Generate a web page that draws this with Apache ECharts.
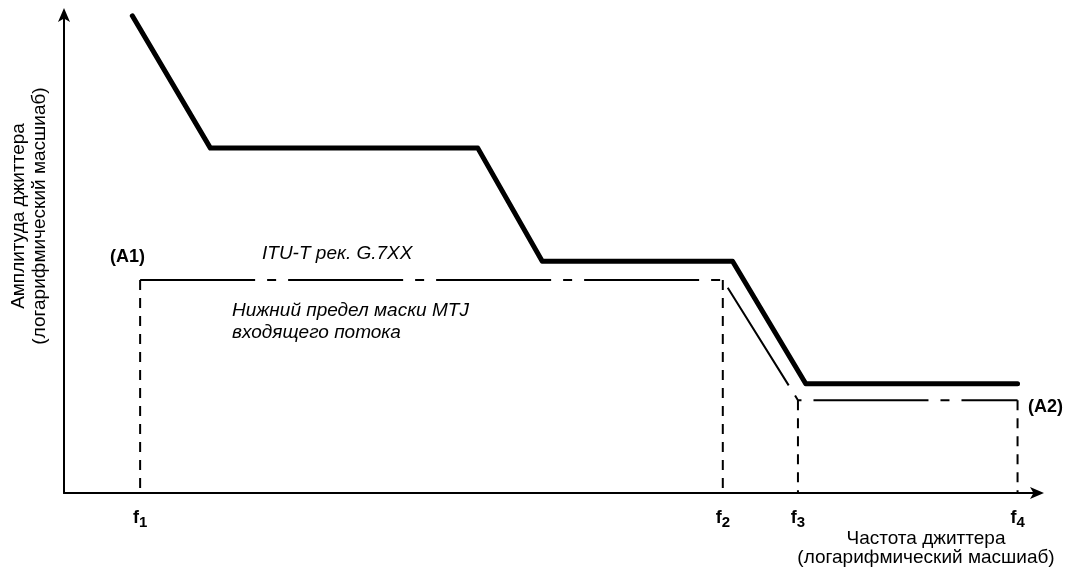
<!DOCTYPE html>
<html>
<head>
<meta charset="utf-8">
<script src="https://cdn.jsdelivr.net/npm/echarts@6/dist/echarts.min.js"></script>
<style>
  html, body { margin: 0; padding: 0; background: #fff; }
  #chart { width: 1070px; height: 568px; }
</style>
</head>
<body>
<div id="chart"></div>
<script>
// log-frequency positions (0..100) and log-amplitude (0..100)
const fLabels = ['1', '2', '3', '4'];
const fPos = [7.8, 67.5, 75.2, 97.7];

// upper (thick) curve
const upperX = [7.0, 15.0, 42.4, 49.0, 68.5, 76.0, 97.7];
const upperY = [99.2, 71.7, 71.7, 48.2, 48.2, 22.7, 22.7];

// lower mask limit (dash-dot)
const maskX = [7.8, 67.5, 75.2, 97.7];
const maskY = [44.3, 44.3, 19.3, 19.3];

const font = '"Liberation Sans", Arial, sans-serif';

function pairs(xs, ys) {
  return xs.map(function (x, i) { return [x, ys[i]]; });
}

const series = [];
series.push({
  type: 'line',
  data: pairs(upperX, upperY),
  symbol: 'none',
  lineStyle: { color: '#000', width: 5, cap: 'round', join: 'round' },
  z: 5
});
series.push({
  type: 'line',
  data: pairs(maskX, maskY),
  symbol: 'none',
  lineStyle: { color: '#000', width: 2, type: [115, 12, 9, 12] },
  z: 4
});
// vertical dashed guides down from the mask corners
for (let i = 0; i < fPos.length; i++) {
  series.push({
    type: 'line',
    data: [[fPos[i], maskY[i]], [fPos[i], 0]],
    symbol: 'none',
    lineStyle: { color: '#000', width: 2, type: [10, 8] },
    z: 3
  });
}

const myChart = echarts.init(document.getElementById('chart'));
const option = {
  animation: false,
  backgroundColor: '#fff',
  grid: { left: 64, right: 30, top: 12, bottom: 75 },
  xAxis: {
    type: 'value',
    min: 0,
    max: 100,
    splitLine: { show: false },
    axisTick: { show: false },
    axisLine: {
      lineStyle: { color: '#000', width: 2 },
      symbol: ['none', 'arrow'],
      symbolSize: [9, 14],
      symbolOffset: [0, 4]
    },
    axisLabel: {
      customValues: fPos,
      margin: 14,
      formatter: function (v) {
        const i = fPos.indexOf(v);
        return '{f|f}{s|' + fLabels[i] + '}';
      },
      rich: {
        f: { fontFamily: font, fontWeight: 'bold', fontSize: 18, color: '#000' },
        s: { fontFamily: font, fontWeight: 'bold', fontSize: 15, color: '#000', verticalAlign: 'bottom', padding: [8, 0, 0, 0] }
      }
    }
  },
  yAxis: {
    type: 'value',
    min: 0,
    max: 100,
    splitLine: { show: false },
    axisTick: { show: false },
    axisLabel: { show: false },
    axisLine: {
      lineStyle: { color: '#000', width: 2 },
      symbol: ['none', 'arrow'],
      symbolSize: [9, 14],
      symbolOffset: [0, 4]
    }
  },
  graphic: [
    {
      type: 'text', x: 29, y: 216, rotation: Math.PI / 2,
      style: {
        text: 'Амплитуда джиттера\n(логарифмический масшиаб)',
        font: '19px ' + font, fill: '#000',
        textAlign: 'center', textVerticalAlign: 'middle', lineHeight: 21
      }
    },
    {
      type: 'text', x: 926, y: 529,
      style: {
        text: 'Частота джиттера\n(логарифмический масшиаб)',
        font: '19px ' + font, fill: '#000', textAlign: 'center', lineHeight: 19
      }
    },
    {
      type: 'text', left: 110, top: 248,
      style: { text: '(A1)', font: 'bold 18px ' + font, fill: '#000' }
    },
    {
      type: 'text', left: 1028, top: 398,
      style: { text: '(A2)', font: 'bold 18px ' + font, fill: '#000' }
    },
    {
      type: 'text', left: 262, top: 244,
      style: { text: 'ITU-T рек. G.7XX', font: 'italic 19px ' + font, fill: '#000' }
    },
    {
      type: 'text', left: 232, top: 300,
      style: {
        text: 'Нижний предел маски MTJ\nвходящего потока',
        font: 'italic 19px ' + font, fill: '#000', lineHeight: 22
      }
    }
  ],
  series: series
};
myChart.setOption(option);
</script>
</body>
</html>
